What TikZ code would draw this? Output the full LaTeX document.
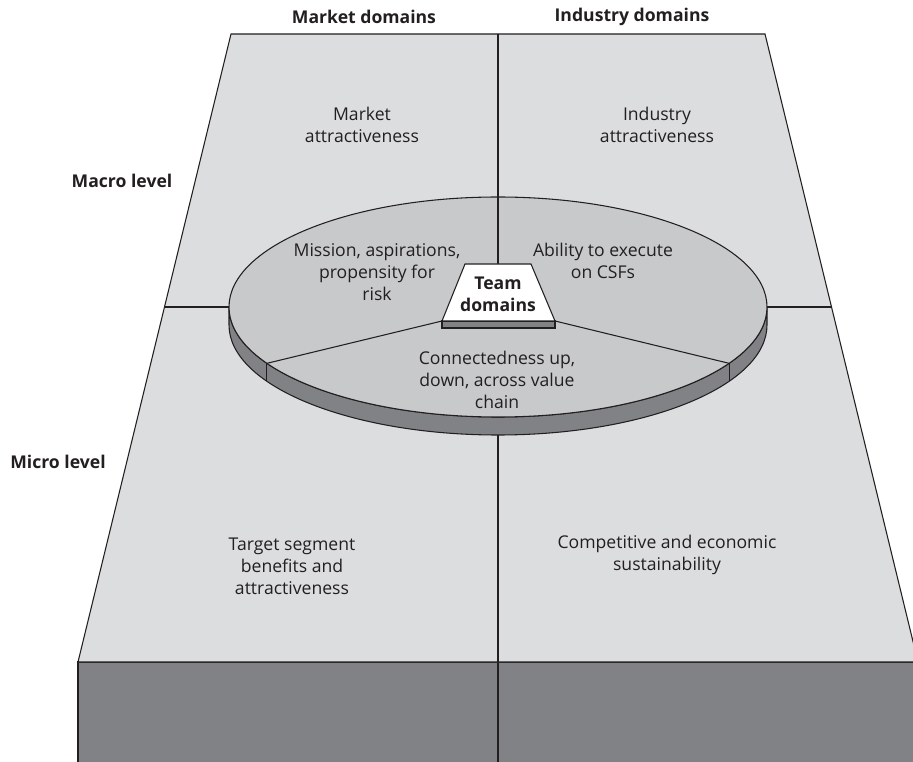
\documentclass[tikz,border=0pt]{standalone}
\usepackage{fontspec}
\setmainfont{Open Sans}
\definecolor{facegray}{HTML}{DCDDDF}
\definecolor{diskgray}{HTML}{C8C9CB}
\definecolor{sidegray}{HTML}{808285}
\definecolor{inkgray}{HTML}{231F20}
\begin{document}
\begin{tikzpicture}[x=0.75pt,y=-0.75pt]
\tikzstyle{edge} = [draw=inkgray, line width=0.8pt]
\tikzstyle{txt} = [font=\fontsize{13.2}{16.5}\selectfont, align=center, text=inkgray]
\tikzstyle{head} = [font=\fontsize{13.2}{16.5}\selectfont\bfseries, align=center, text=inkgray]
\useasboundingbox (0,0) rectangle (913,762);

% Board
\coordinate (tl) at (231,34);
\coordinate (tr) at (765,34);
\coordinate (bl) at (78,662);
\coordinate (br) at (918,662);
\coordinate (tm) at (498,34);
\coordinate (bm) at (498,662);
\coordinate (ml) at (165,307);
\coordinate (mr) at (832,307);
\draw [edge, fill=sidegray] (bl) -- (br) -- (918,780) -- (78,780) -- cycle;
\draw [edge] (bm) -- (498,780);
\draw [edge, fill=facegray] (tl) -- (tr) -- (br) -- (bl) -- cycle;
\draw [edge] (tm) -- (bm);
\draw [edge] (ml) -- (mr);

% Disk
\coordinate (c) at (498,307);
\path (c) ++(149.2:269 and 110) coordinate (sl);
\path (c) ++(30.8:269 and 110) coordinate (sr);
\draw [edge, fill=sidegray] (229,307) -- (229,325)
  arc [start angle=180, end angle=0, x radius=269, y radius=110] -- (767,307)
  arc [start angle=0, end angle=180, x radius=269, y radius=110] -- cycle;
\draw [edge] (sl) -- ++(0,18);
\draw [edge] (sr) -- ++(0,18);
\draw [edge, fill=diskgray] (c) ellipse [x radius=269, y radius=110];

% Team box
\coordinate (tbl) at (442,321);
\coordinate (tbr) at (555,321);
\draw [edge] (498,197) -- (498,264);
\draw [edge] (sl) -- (tbl);
\draw [edge] (sr) -- (tbr);
\draw [edge, fill=sidegray] (tbl) rectangle (555,328);
\draw [edge, fill=white] (tbl) -- (465,264) -- (531,264) -- (tbr) -- cycle;

% Nodes
\node (marketdom) [head] at (364,17) {Market domains};
\node (industrydom) [head] at (632,17) {Industry domains};
\node (macro) [head] at (122,181) {Macro level};
\node (micro) [head] at (58,462) {Micro level};
\node (marketatt) [txt] at (362,125) {Market\\attractiveness};
\node (industryatt) [txt] at (657,125) {Industry\\attractiveness};
\node (mission) [txt] at (377,272) {Mission, aspirations,\\propensity for\\risk};
\node (ability) [txt] at (603,261) {Ability to execute\\on CSFs};
\node (team) [head] at (498,294) {Team\\domains};
\node (connect) [txt] at (497,380) {Connectedness up,\\down, across value\\chain};
\node (target) [txt] at (292,566) {Target segment\\benefits and\\attractiveness};
\node (compete) [txt] at (667,555) {Competitive and economic\\sustainability};

\end{tikzpicture}
\end{document}
